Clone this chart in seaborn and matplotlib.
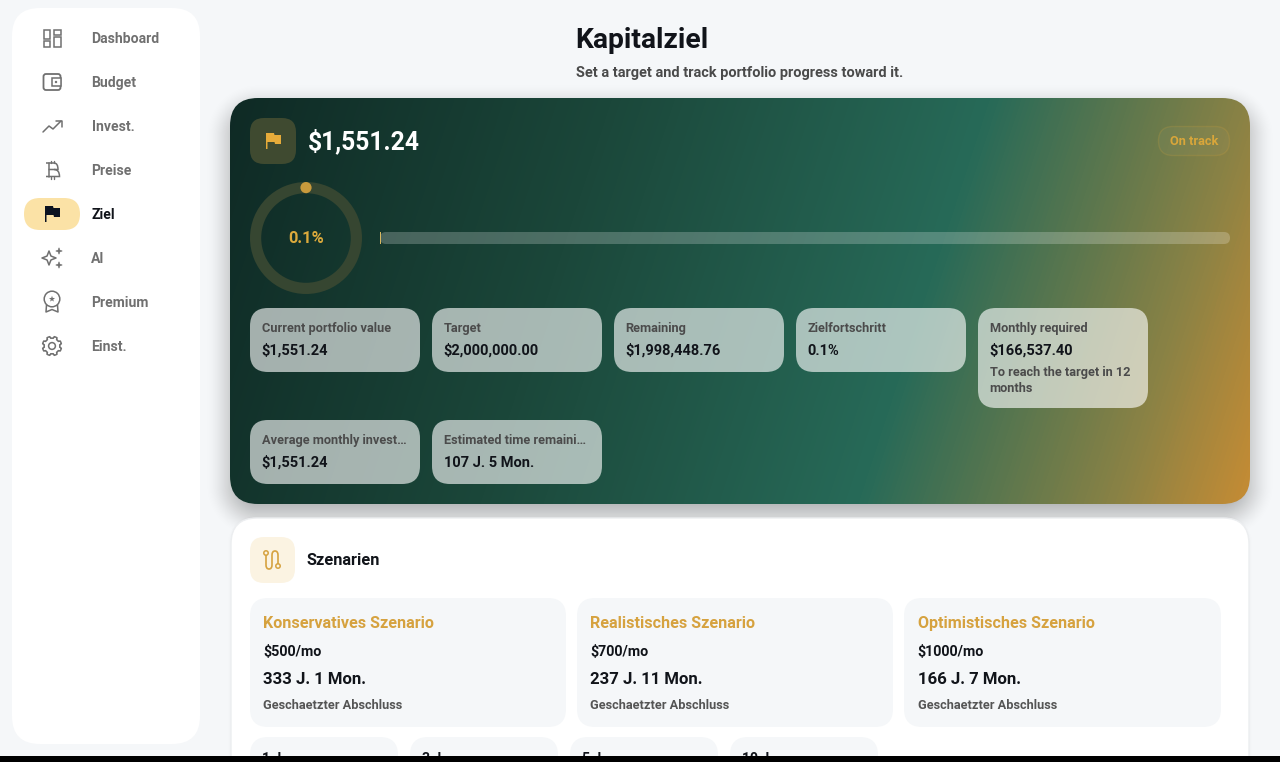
import numpy as np
import matplotlib
matplotlib.use("Agg")
import matplotlib.pyplot as plt
from matplotlib.patches import FancyBboxPatch, Circle, Polygon, PathPatch
from matplotlib.path import Path
from matplotlib.colors import LinearSegmentedColormap
import seaborn as sns

# ---- data ----
nav_labels = ["Dashboard", "Budget", "Invest.", "Preise", "Ziel", "AI", "Premium", "Einst."]
active_nav = "Ziel"
page_title = "Kapitalziel"
page_subtitle = "Set a target and track portfolio progress toward it."
portfolio_value = "$1,551.24"
status_label = "On track"
progress_pct = 0.1
stat_labels = ["Current portfolio value", "Target", "Remaining", "Zielfortschritt", "Monthly required",
               "Average monthly invest…", "Estimated time remaini…"]
stat_values = ["$1,551.24", "$2,000,000.00", "$1,998,448.76", "0.1%", "$166,537.40", "$1,551.24", "107 J. 5 Mon."]
stat_note = ["To reach the target in 12", "months"]
section_title = "Szenarien"
scenario_names = ["Konservatives Szenario", "Realistisches Szenario", "Optimistisches Szenario"]
scenario_rates = ["$500/mo", "$700/mo", "$1000/mo"]
scenario_times = ["333 J. 1 Mon.", "237 J. 11 Mon.", "166 J. 7 Mon."]
scenario_note = "Geschaetzter Abschluss"
horizon_labels = ["1 J.", "3 J.", "5 J.", "10 J."]

W, H = 1280, 762
sns.set_theme(style="white")
plt.rcParams["font.family"] = ["Roboto", "DejaVu Sans"]
BG = "#f5f7f9"; GREY = "#707070"; INK = "#11141a"; GOLD = "#dba73b"; SOFT = "#d6a23f"
ILW = 1.1

fig = plt.figure(figsize=(W / 100, H / 100), dpi=100, facecolor=BG)
ax = fig.add_axes([0, 0, 1, 1])
ax.set_xlim(0, W); ax.set_ylim(H, 0); ax.axis("off")


def rbox(x0, y0, x1, y1, r, fc, ec="none", lw=0, alpha=None, z=2, a=ax):
    p = FancyBboxPatch((x0 + r, y0 + r), x1 - x0 - 2 * r, y1 - y0 - 2 * r,
                       boxstyle=f"round,pad={r},rounding_size={r}", fc=fc, ec=ec, lw=lw, alpha=alpha, zorder=z)
    a.add_patch(p)
    return p


def txt(x, y, s, px, color=INK, w="bold", ha="left", z=6, alpha=None):
    return ax.text(x, y, s, fontsize=px * 0.72, color=color, fontweight=w, ha=ha, va="baseline", zorder=z, alpha=alpha)


def line(pts, c=GREY, lw=ILW, z=6):
    xs, ys = zip(*pts)
    ax.plot(xs, ys, color=c, lw=lw, solid_capstyle="round", solid_joinstyle="round", zorder=z)


def sdf_shadow(x0, y0, x1, y1, r, blur, alpha, dy=0):
    yy, xx = np.mgrid[0:H, 0:W] + 0.5
    cx, cy = (x0 + x1) / 2, (y0 + y1) / 2 + dy
    qx = np.abs(xx - cx) - (x1 - x0) / 2 + r
    qy = np.abs(yy - cy) - (y1 - y0) / 2 + r
    d = np.hypot(np.maximum(qx, 0), np.maximum(qy, 0)) + np.minimum(np.maximum(qx, qy), 0) - r
    u = np.clip(0.5 - d / blur, 0, 1)
    img = np.zeros((H, W, 4)); img[..., 3] = alpha * u ** 2 * (3 - 2 * u)
    ax.imshow(img, extent=(0, W, H, 0), zorder=1, aspect="auto", interpolation="bilinear")


# sidebar
rbox(12, 8, 200, 744, 28, "white", z=2)
rbox(24, 198, 80, 230, 16, "#fbe2a6", z=3)
nav_y = [38 + 44 * i for i in range(len(nav_labels))]
for lab, y in zip(nav_labels, nav_y):
    on = lab == active_nav
    txt(92.4 if lab == "Invest." else 91.4, y + 5, lab, 14, INK if on else GREY, "bold")

# nav icons
for (a, b, c, d) in [(43.5, 29.5, 50, 39), (54, 29.5, 60.5, 35), (43.5, 41, 50, 46.5), (54, 37, 60.5, 46.5)]:
    ax.add_patch(plt.Rectangle((a, b), c - a, d - b, fc="none", ec=GREY, lw=ILW, zorder=6))
rbox(43.5, 74, 60.5, 90, 2.5, "none", GREY, ILW + 0.2, z=6)
ax.add_patch(plt.Rectangle((52, 78), 9, 8, fc="white", ec=GREY, lw=ILW, zorder=6))
ax.add_patch(Circle((56, 82), 1.2, fc=GREY, ec="none", zorder=7))
line([(43, 132), (49, 126), (53, 129), (61, 121)])
line([(55.5, 120.8), (61.5, 120.8), (61.5, 126.5)])
# bitcoin
line([(48.5, 163), (48.5, 176.5)])
ax.add_patch(PathPatch(Path([(46, 163), (54, 163), (58, 163), (58, 169.5), (54, 169.5), (48.5, 169.5)], [1, 2, 3, 3, 3, 2]), fc="none", ec=GREY, lw=ILW, zorder=6))
ax.add_patch(PathPatch(Path([(54, 169.5), (59.5, 169.5), (59.5, 176.5), (54, 176.5), (46, 176.5)], [1, 3, 3, 3, 2]), fc="none", ec=GREY, lw=ILW, zorder=6))
for xb in (50.5, 54):
    line([(xb, 160.5), (xb, 163)], lw=1.0); line([(xb, 176.5), (xb, 179)], lw=1.0)
# flag
def flag(x, y, s, c):
    pts = [(0, 0), (8, 0), (8.5, 2), (15, 2), (15, 11), (9, 11), (8.5, 9), (1.5, 9), (1.5, 16), (0, 16)]
    ax.add_patch(Polygon([(x + s * p, y + s * q) for p, q in pts], fc=c, ec="none", zorder=7))
flag(45, 206, 1, "#0b1220")
# sparkles
def star(cx, cy, r, fill):
    k = 0.28 * r
    pts = [(cx, cy - r), (cx + k, cy - k), (cx + r, cy), (cx + k, cy + k), (cx, cy + r), (cx - k, cy + k), (cx - r, cy), (cx - k, cy - k)]
    ax.add_patch(Polygon(pts, fc=GREY if fill else "none", ec=GREY, lw=ILW if not fill else 0.4, zorder=6, joinstyle="round"))
star(49, 258, 7, False); star(59, 251, 3.2, True); star(59, 265, 3.2, True)
# premium
ax.add_patch(Circle((52, 299), 7.8, fc="none", ec=GREY, lw=ILW, zorder=6))
star_a = np.arange(10) * np.pi / 5 - np.pi / 2
star_r = np.where(np.arange(10) % 2 == 0, 3.2, 1.3)
ax.add_patch(Polygon(np.c_[52 + star_r * np.cos(star_a), 299 + star_r * np.sin(star_a)], fc=GREY, ec="none", zorder=6))
line([(46.5, 305), (46, 312), (52, 309.5), (58, 312), (57.5, 305)])
# gear
ga = np.linspace(0, 2 * np.pi, 161)
gr = 8.7 + 0.9 * np.clip(3.2 * np.cos(8 * (ga + np.pi / 8)), -1, 1)
ax.add_patch(Polygon(np.c_[52 + gr * np.cos(ga), 346 + gr * np.sin(ga)], fc="none", ec=GREY, lw=ILW, zorder=6, joinstyle="round"))
ax.add_patch(Circle((52, 346), 3.4, fc="none", ec=GREY, lw=ILW, zorder=6))

# header
txt(575.5, 48, page_title, 28.2, INK)
txt(576, 77, page_subtitle, 14.55, "#4a4a4a", "bold")

# hero card
sdf_shadow(230, 98, 1250, 504, 28, 52, 0.32, dy=10)
stops = [(0.0, "#0f2a25"), (0.33, "#1b473a"), (0.66, "#276a58"), (0.885, "#8a8245"), (1.0, "#c68c34")]
cmap = LinearSegmentedColormap.from_list("hero", stops)
yy, xx = np.mgrid[98:504, 230:1250] + 0.5
ca, sa = np.cos(np.radians(18)), np.sin(np.radians(18))
span = 1020 * ca + 406 * sa
tt = ((xx - 740) * ca + (yy - 301) * sa) / span + 0.5
im = ax.imshow(tt, extent=(230, 1250, 504, 98), cmap=cmap, vmin=0, vmax=1, zorder=2, aspect="auto", interpolation="bilinear")
im.set_clip_path(rbox(230, 98, 1250, 504, 28, "none", z=2))
ax.set_xlim(0, W); ax.set_ylim(H, 0)

rbox(250, 118, 296, 164, 14, "#3f4a30", z=3)
flag(266, 133, 1, "#e6ab3a")
txt(308, 149, portfolio_value, 24.6, "white")
rbox(1158.5, 126.5, 1229.5, 155.5, 14.5, (1, 1, 1, 0.03), (0.86, 0.65, 0.23, 0.18), 1, z=3)
txt(1194, 145, status_label, 12.8, "#d9a63a", "bold", ha="center")

# progress ring (pie)
rax = fig.add_axes([250 / W, 1 - 294 / H, 112 / W, 112 / H])
rax.pie([progress_pct, 100 - progress_pct], colors=["#c89a3c", "#364631"], startangle=90, counterclock=False,
        radius=1, wedgeprops=dict(width=0.2, lw=0))
rax.set_xlim(-1, 1); rax.set_ylim(-1, 1); rax.patch.set_alpha(0)
rax.add_patch(Circle((0, 0.9), 0.1, fc="#c89a3c", ec="none", zorder=5))
txt(306, 243, f"{progress_pct}%", 16.5, "#dcaa3c", "bold", ha="center")

# progress bar
rbox(380, 232, 1230, 244, 6, (1, 1, 1, 0.22), z=3)
bax = fig.add_axes([380 / W, 1 - 244 / H, 850 / W, 12 / H])
sns.barplot(x=[progress_pct], y=["Ziel"], orient="h", color="#d8b860", saturation=1, width=1, linewidth=0, ax=bax)
bax.set_xlim(0, 100); bax.axis("off"); bax.patch.set_alpha(0)

# stat cards
card_x = [250, 432, 614, 796, 978, 250, 432]
card_y = [308, 308, 308, 308, 308, 420, 420]
card_h = [64, 64, 64, 64, 100, 64, 64]
for x, y, h, lab, val in zip(card_x, card_y, card_h, stat_labels, stat_values):
    rbox(x, y, x + 170, y + h, 18, (1, 1, 1, 0.62), z=3)
    txt(x + 11.6, y + 24, lab, 12.7, "#4b4b4b", "bold")
    txt(x + 11.6, y + 47, val, 14.6, INK, "bold")
txt(989.6, 376, stat_note[0], 12.7, "#4b4b4b", "bold")
txt(989.6, 392, stat_note[1], 12.7, "#4b4b4b", "bold")

# scenarios panel
sdf_shadow(231, 518, 1249, 800, 26, 10, 0.05)
rbox(231, 518, 1249, 800, 26, "white", "#eceef0", 1, z=2)
rbox(250, 537, 295, 583, 14, "#fbf3e2", z=3)
ax.add_patch(Circle((266, 553), 2.2, fc="none", ec=SOFT, lw=ILW, zorder=6))
ax.add_patch(Circle((278, 566), 2.2, fc="none", ec=SOFT, lw=ILW, zorder=6))
ax.add_patch(PathPatch(Path([(266, 555), (266, 565), (266, 569), (269, 569), (272, 569), (272, 565), (272, 555), (272, 551), (275, 551), (278, 551), (278, 555), (278, 564)],
                            [1, 2, 3, 3, 3, 3, 2, 3, 3, 3, 3, 2]), fc="none", ec=SOFT, lw=ILW + 0.1, zorder=6))
txt(306.5, 565, section_title, 16.4, INK)
sc_x = [250, 577, 904]; sc_w = [316, 316, 317]; sc_pad = [13.4, 13.4, 13.7]
for x, w_, pad, n, r, t in zip(sc_x, sc_w, sc_pad, scenario_names, scenario_rates, scenario_times):
    rbox(x, 598, x + w_, 727, 18, BG, z=3)
    txt(x + pad, 627.8, n, 16.1, SOFT, "bold")
    txt(x + 13.0, 656, r, 14.2, INK, "bold")
    txt(x + pad, 683.8, t, 16.8, INK, "bold")
    txt(x + pad, 709, scenario_note, 12.8, "#555555", "bold")
for x, lab in zip([250, 410, 570, 730], horizon_labels):
    rbox(x, 737, x + 148, 790, 18, BG, z=3)
    txt(x + 12, 763, lab, 14, INK, "bold")

# black strip at bottom edge
ax.add_patch(plt.Rectangle((0, 756), W, 6, fc="black", ec="none", zorder=20))
fig.savefig("out.png", dpi=100, facecolor=BG)
